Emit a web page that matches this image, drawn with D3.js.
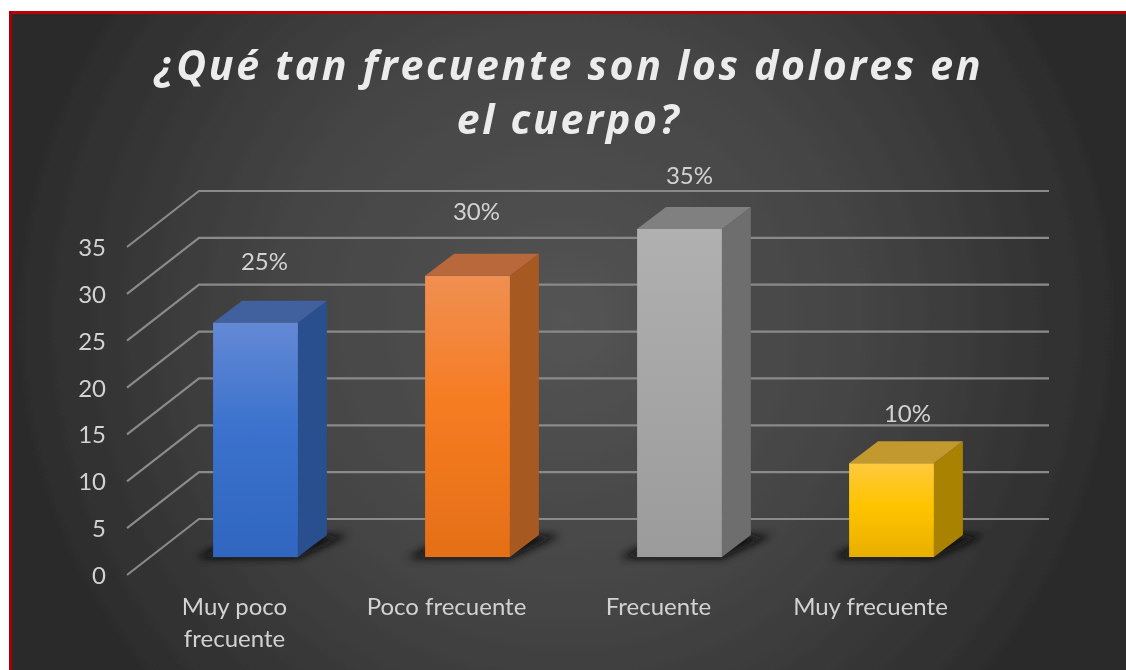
<!DOCTYPE html>
<html>
<head>
<meta charset="utf-8">
<script src="https://d3js.org/d3.v7.min.js"></script>
<style>
    html, body { margin: 0; padding: 0; background: #fff; overflow: hidden; }
    text { font-family: Lato, sans-serif; fill: #d2d2d2; font-size: 24px; }
    .title-text { font-family: "Open Sans", sans-serif; font-weight: 700; font-style: italic;
        font-size: 41px; letter-spacing: 2.7px; fill: #ececec; }
</style>
</head>
<body>
<svg id="vis"></svg>
<script>
    var width = 1126, height = 670;

    // data
    var categories = ["Muy poco frecuente", "Poco frecuente", "Frecuente", "Muy frecuente"];
    var values = [25, 30, 35, 10];
    var valueLabels = ["25%", "30%", "35%", "10%"];
    var yTicks = [0, 5, 10, 15, 20, 25, 30, 35];
    var titleLines = ["¿Qué tan frecuente son los dolores en", "el cuerpo?"];

    // face colours: gradient top / mid / bottom, side, cap
    var frontColors = [
        ["#6489d5", "#3b72cd", "#2f66c0"],
        ["#f08f52", "#f67c22", "#e56f18"],
        ["#b0b0b0", "#a6a6a6", "#9b9b9b"],
        ["#ffc93f", "#ffc400", "#e9af00"]
    ];
    var sideColors = ["#2c4f8e", "#a65a20", "#6e6e6e", "#a88200"];
    var capColors = ["#41609e", "#b9673a", "#808080", "#c2992e"];

    // depth of the 3D box
    var depthX = 29, depthY = -22;
    var wallX = 72;

    var svg = d3.select("#vis").attr("width", width).attr("height", height)
        .style("display", "block");
    var defs = svg.append("defs");

    var bg = defs.append("radialGradient").attr("id", "bg")
        .attr("gradientUnits", "userSpaceOnUse")
        .attr("cx", 566).attr("cy", 320).attr("r", 570);
    bg.append("stop").attr("offset", "0").attr("stop-color", "#545454");
    bg.append("stop").attr("offset", "0.55").attr("stop-color", "#434343");
    bg.append("stop").attr("offset", "1").attr("stop-color", "#2a2a2a");

    var blur = defs.append("filter").attr("id", "shadow")
        .attr("x", "-30%").attr("y", "-80%").attr("width", "160%").attr("height", "260%");
    blur.append("feGaussianBlur").attr("stdDeviation", 4);

    // the reference is a soft, scaled-up screenshot
    var soft = defs.append("filter").attr("id", "soft")
        .attr("filterUnits", "userSpaceOnUse")
        .attr("x", 0).attr("y", 0).attr("width", width).attr("height", height);
    soft.append("feGaussianBlur").attr("stdDeviation", 0.45);

    frontColors.forEach(function (c, i) {
        var g = defs.append("linearGradient").attr("id", "front" + i)
            .attr("x1", 0).attr("y1", 0).attr("x2", 0).attr("y2", 1);
        g.append("stop").attr("offset", "0").attr("stop-color", c[0]);
        g.append("stop").attr("offset", "0.45").attr("stop-color", c[1]);
        g.append("stop").attr("offset", "1").attr("stop-color", c[2]);
    });

    var chart = svg.append("g").attr("filter", "url(#soft)");

    // panel, red edge only on the top and left
    chart.append("rect")
        .attr("x", 11).attr("y", 14)
        .attr("width", width - 11).attr("height", height - 14)
        .attr("fill", "url(#bg)");
    chart.append("rect")
        .attr("x", 9).attr("y", 11)
        .attr("width", width - 9).attr("height", 3)
        .attr("fill", "#c00000");
    chart.append("rect")
        .attr("x", 9).attr("y", 11)
        .attr("width", 3).attr("height", height - 11)
        .attr("fill", "#a80000");

    // scales: x and y are the front plane of the bars
    var x = d3.scaleBand()
        .domain(categories)
        .range([149.5, 997.5])
        .paddingInner(0.6)
        .paddingOuter(0.3);
    var y = d3.scaleLinear().domain([0, 35]).range([557, 229]);
    // back wall of the plot
    var wall = d3.scaleLinear().domain([0, 35]).range([519, 191]);
    // left edge of the floor, where the tick labels sit
    var edge = d3.scaleLinear().domain([0, 35]).range([575, 247]);

    // gridlines
    var grid = chart.append("g").attr("fill", "none")
        .attr("stroke", "#8a8a8a").attr("stroke-width", 2.2);
    grid.selectAll("path")
        .data(yTicks)
        .enter().append("path")
        .attr("d", function (d) {
            return d3.line()([[127, edge(d)], [127 + wallX, wall(d)], [1049, wall(d)]]);
        });

    // y axis labels
    chart.append("g").selectAll("text")
        .data(yTicks)
        .enter().append("text")
        .attr("x", 106)
        .attr("y", function (d) { return edge(d) + 9; })
        .attr("text-anchor", "end")
        .text(function (d) { return d; });

    var bars = chart.selectAll(".bar")
        .data(categories)
        .enter().append("g")
        .attr("class", "bar");

    // floor shadow
    bars.append("path")
        .attr("fill", "#080808")
        .attr("filter", "url(#shadow)")
        .attr("d", function (d) {
            var l = x(d), r = l + x.bandwidth(), b = y(0);
            return d3.line()([[l - 18, b + 1], [r, b + 1], [r + depthX + 22, b + depthY], [r, b + depthY], [l, b - 8]]);
        });

    // side face
    bars.append("path")
        .attr("fill", function (d, i) { return sideColors[i]; })
        .attr("d", function (d, i) {
            var r = x(d) + x.bandwidth();
            return d3.line()([[r, y(values[i])], [r + depthX, y(values[i]) + depthY],
                [r + depthX, y(0) + depthY], [r, y(0)]]) + "Z";
        });

    // cap
    bars.append("path")
        .attr("fill", function (d, i) { return capColors[i]; })
        .attr("d", function (d, i) {
            var l = x(d), r = l + x.bandwidth(), t = y(values[i]);
            return d3.line()([[l, t], [l + depthX, t + depthY], [r + depthX, t + depthY], [r, t]]) + "Z";
        });

    // front face
    bars.append("rect")
        .attr("x", function (d) { return x(d); })
        .attr("y", function (d, i) { return y(values[i]); })
        .attr("width", x.bandwidth())
        .attr("height", function (d, i) { return y(0) - y(values[i]); })
        .attr("fill", function (d, i) { return "url(#front" + i + ")"; });

    // value labels were placed by hand in the original, so they sit a little unevenly
    var labelLift = [31, 34, 23, 19];
    var labelShift = [9, 9, 10, 16];
    bars.append("text")
        .attr("x", function (d, i) { return x(d) + x.bandwidth() / 2 + labelShift[i]; })
        .attr("y", function (d, i) { return y(values[i]) + depthY - labelLift[i]; })
        .attr("text-anchor", "middle")
        .text(function (d, i) { return valueLabels[i]; });

    // category labels, wrapped like the original
    bars.append("text")
        .attr("text-anchor", "middle")
        .attr("y", 615)
        .each(function (d) {
            var lines = d === "Muy poco frecuente" ? ["Muy poco", "frecuente"] : [d];
            var cx = x(d) + x.bandwidth() / 2 - 21;
            d3.select(this).selectAll("tspan")
                .data(lines)
                .enter().append("tspan")
                .attr("x", cx)
                .attr("dy", function (l, i) { return i ? 32 : 0; })
                .text(function (l) { return l; });
        });

    // title
    chart.append("g").selectAll("text")
        .data(titleLines)
        .enter().append("text")
        .attr("class", "title-text")
        .attr("x", 569)
        .attr("y", function (d, i) { return 80 + i * 54; })
        .attr("text-anchor", "middle")
        .text(function (d) { return d; });
</script>
</body>
</html>
